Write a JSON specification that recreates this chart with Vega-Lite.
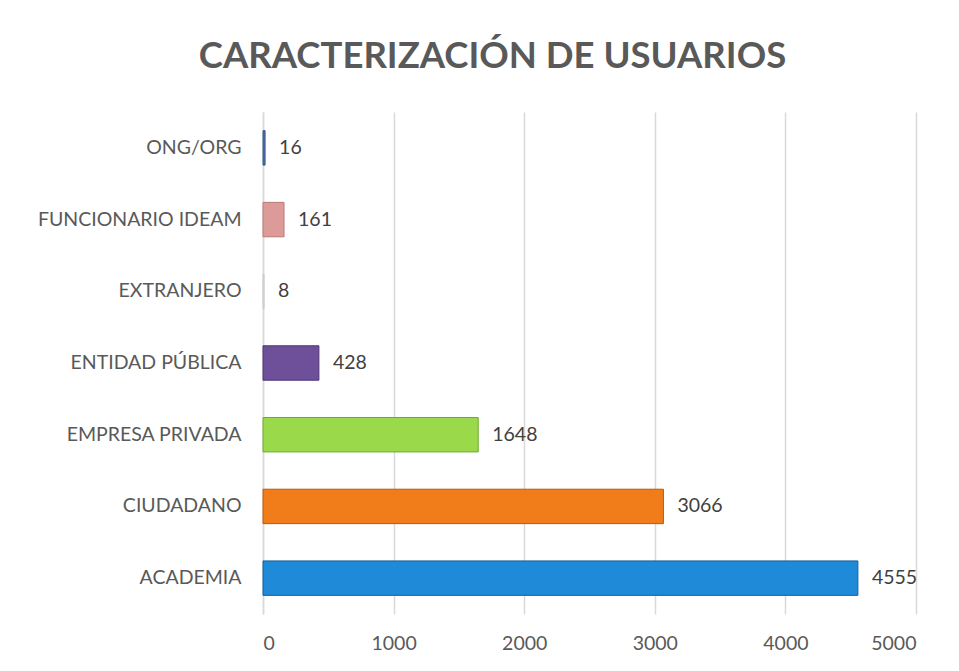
{
  "$schema": "https://vega.github.io/schema/vega-lite/v6.json",
  "width": 653,
  "height": 502,
  "autosize": "none",
  "padding": {"left": 263, "top": 112, "right": 43, "bottom": 57},
  "background": "white",
  "config": {"view": {"stroke": null}, "font": "Lato"},
  "title": {
    "text": "CARACTERIZACIÓN DE USUARIOS",
    "font": "Lato",
    "fontSize": 36.5,
    "fontWeight": "bold",
    "color": "#595959",
    "anchor": "middle",
    "dx": -97,
    "offset": 37
  },
  "data": {
    "values": [
      {"categoria": "ONG/ORG", "usuarios": 16},
      {"categoria": "FUNCIONARIO IDEAM", "usuarios": 161},
      {"categoria": "EXTRANJERO", "usuarios": 8},
      {"categoria": "ENTIDAD PÚBLICA", "usuarios": 428},
      {"categoria": "EMPRESA PRIVADA", "usuarios": 1648},
      {"categoria": "CIUDADANO", "usuarios": 3066},
      {"categoria": "ACADEMIA", "usuarios": 4555}
    ]
  },
  "encoding": {
    "y": {
      "field": "categoria",
      "type": "nominal",
      "sort": ["ONG/ORG", "FUNCIONARIO IDEAM", "EXTRANJERO", "ENTIDAD PÚBLICA", "EMPRESA PRIVADA", "CIUDADANO", "ACADEMIA"],
      "scale": {"paddingInner": 0.52, "paddingOuter": 0.26},
      "axis": {
        "title": null,
        "ticks": false,
        "labelFontSize": 19.5,
        "labelColor": "#595959",
        "labelFont": "Lato",
        "labelPadding": 22,
        "labelLimit": 300,
        "domainColor": "#d9d9d9",
        "domainWidth": 1.5
      }
    },
    "x": {
      "field": "usuarios",
      "type": "quantitative",
      "scale": {"domain": [0, 5000]},
      "axis": {
        "title": null,
        "values": [0, 1000, 2000, 3000, 4000, 5000],
        "format": "d",
        "ticks": false,
        "domain": false,
        "grid": true,
        "gridColor": "#d9d9d9",
        "gridWidth": 1.5,
        "labelFontSize": 19.5,
        "labelColor": "#595959",
        "labelFont": "Lato",
        "labelPadding": 20
      }
    }
  },
  "layer": [
    {
      "mark": {"type": "bar", "strokeWidth": 1},
      "encoding": {
        "color": {
          "field": "categoria",
          "type": "nominal",
          "legend": null,
          "scale": {
            "domain": ["ONG/ORG", "FUNCIONARIO IDEAM", "EXTRANJERO", "ENTIDAD PÚBLICA", "EMPRESA PRIVADA", "CIUDADANO", "ACADEMIA"],
            "range": ["#4a6fa5", "#dc9a98", "#e3e3e3", "#6e4f9a", "#99d94a", "#f07d1a", "#1f8ad8"]
          }
        },
        "stroke": {
          "field": "categoria",
          "type": "nominal",
          "legend": null,
          "scale": {
            "domain": ["ONG/ORG", "FUNCIONARIO IDEAM", "EXTRANJERO", "ENTIDAD PÚBLICA", "EMPRESA PRIVADA", "CIUDADANO", "ACADEMIA"],
            "range": ["#3a5a8c", "#b97876", "#c8c8c8", "#4f3673", "#72a832", "#b85a0c", "#125f9c"]
          }
        }
      }
    },
    {
      "mark": {"type": "text", "align": "left", "dx": 14, "fontSize": 19.5, "font": "Lato", "color": "#404040"},
      "encoding": {"text": {"field": "usuarios", "type": "quantitative", "format": "d"}}
    }
  ]
}
